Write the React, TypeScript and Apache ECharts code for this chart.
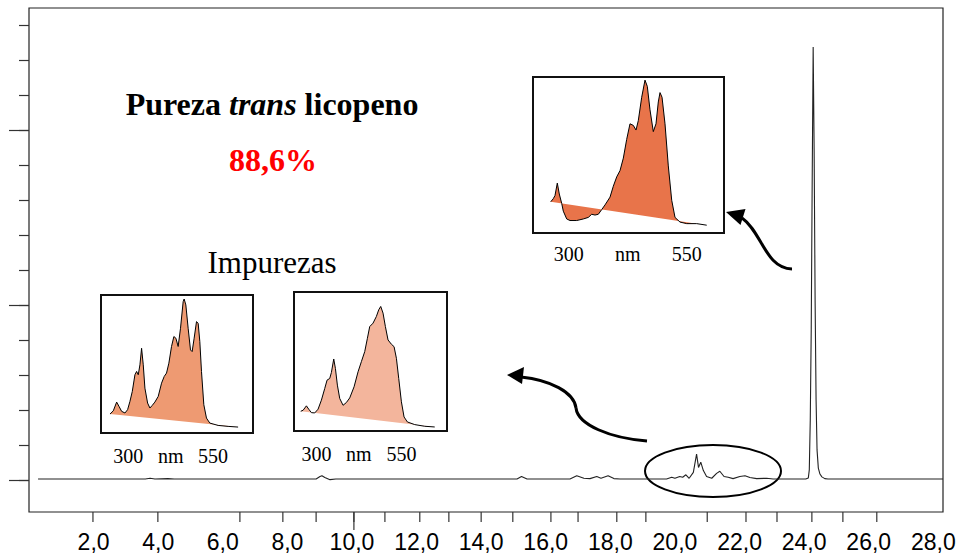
import React, { useEffect, useRef } from "react";
import * as echarts from "echarts";

// ---- Chromatogram (retention time, min ; signal, a.u.) ----
const retentionTime = [
  0.28, 2.0, 3.6, 3.75, 3.9, 4.3, 4.5, 8.89, 9.01, 9.07, 9.16, 9.32, 9.5,
  15.11, 15.25, 15.42, 16.75, 16.96, 17.18, 17.37, 17.58, 17.71, 17.93, 18.11, 18.3,
  19.74, 19.9, 20.0, 20.15, 20.24, 20.34, 20.44, 20.57, 20.67, 20.73, 20.8, 20.88, 20.98,
  21.14, 21.29, 21.39, 21.52, 21.65, 21.8, 22.01, 22.17, 22.32, 22.53, 22.84, 23.04,
  24.05, 24.13, 24.16, 24.19, 24.22, 24.25, 24.28, 24.31, 24.34, 24.37, 24.4, 24.44,
  24.49, 24.55, 24.64, 24.74, 28.3,
];
const signal = [
  0.03, 0.03, 0.03, 0.05, 0.03, 0.04, 0.03, 0.03, 0.1, 0.12, 0.07, 0.01, 0.03,
  0.03, 0.1, 0.03, 0.03, 0.12, 0.05, 0.04, 0.1, 0.05, 0.12, 0.04, 0.03,
  0.03, 0.08, 0.05, 0.1, 0.08, 0.15, 0.05, 0.22, 0.74, 0.36, 0.51, 0.27, 0.1,
  0.05, 0.19, 0.25, 0.1, 0.08, 0.04, 0.1, 0.12, 0.07, 0.04, 0.05, 0.03,
  0.03, 0.06, 0.29, 1.71, 4.29, 8.57, 12.37, 9.43, 5.14, 2.29, 0.86, 0.34,
  0.17, 0.09, 0.04, 0.03, 0.03,
];

// axis ticks / labels
const xTickValues = [1.98, 3.99, 6.53, 7.86, 8.89, 10.06, 11.02, 12.1, 13.0, 14.0, 14.98, 16.16, 17.0, 18.2, 19.1, 21.0, 22.2, 23.16, 24.24, 25.2, 26.25];
const xLongTickValues = [10.06];
const xLabelValues = [2, 4, 6, 8, 10, 12, 14, 16, 18, 20, 22, 24, 26, 28];
const yTickValues = [0, 1, 2, 3, 4, 5, 6, 7, 8, 9, 10, 11, 12, 13];
const yLongTickValues = [0, 5, 10];

// ---- UV-Vis spectra (nm ; absorbance, a.u.) ----
const transNm = [261.5, 267, 270.6, 275.5, 279.7, 284.8, 288.2, 295.4, 302.4, 316.6, 330.6, 341.2, 348.4, 355.4, 362.4, 369.6, 376.6, 387.2, 394.2, 401.4, 408.4, 415.4, 422.5, 429.5, 436.5, 442.3, 447.1, 454.3, 461.3, 466.2, 471.9, 478.9, 484.6, 489.5, 493.1, 497.4, 503.7, 510.7, 517.9, 524.9, 535.5, 549.7, 570.9, 592.1];
const transAbs = [0.2, 0.22, 0.24, 0.32, 0.25, 0.19, 0.14, 0.09, 0.08, 0.08, 0.09, 0.1, 0.12, 0.115, 0.12, 0.15, 0.18, 0.23, 0.3, 0.36, 0.4, 0.48, 0.6, 0.7, 0.69, 0.66, 0.72, 0.87, 0.98, 0.94, 0.79, 0.65, 0.7, 0.84, 0.9, 0.87, 0.7, 0.43, 0.21, 0.1, 0.07, 0.06, 0.06, 0.05];

const imp1Nm = [246.2, 256.0, 265.8, 272.7, 280.5, 290.3, 298.1, 305.0, 311.9, 319.7, 324.6, 329.5, 334.4, 339.3, 344.2, 349.1, 357.0, 363.8, 370.7, 378.5, 388.3, 398.1, 406.0, 412.8, 419.7, 427.5, 434.4, 440.3, 447.1, 454.0, 461.8, 464.7, 469.7, 476.5, 483.4, 488.3, 494.2, 501.1, 506.0, 510.9, 515.8, 522.7, 530.5, 540.3, 564.8, 594.3, 623.7];
const imp1Abs = [0.137, 0.161, 0.224, 0.193, 0.157, 0.145, 0.169, 0.229, 0.301, 0.422, 0.446, 0.422, 0.494, 0.614, 0.494, 0.325, 0.217, 0.181, 0.2, 0.224, 0.265, 0.361, 0.41, 0.434, 0.506, 0.627, 0.699, 0.687, 0.627, 0.759, 0.952, 0.971, 0.928, 0.759, 0.602, 0.59, 0.687, 0.807, 0.795, 0.663, 0.446, 0.205, 0.108, 0.072, 0.055, 0.048, 0.043];

const imp2Nm = [253.9, 260.8, 270.6, 277.4, 285.3, 295.1, 304.9, 314.7, 324.5, 331.3, 339.2, 344.1, 351.0, 355.9, 361.7, 368.6, 378.4, 388.2, 398.0, 410.8, 422.5, 432.3, 442.1, 450.0, 456.8, 466.6, 476.4, 483.3, 489.2, 496.0, 502.9, 510.7, 520.6, 528.4, 535.3, 542.1, 550.0, 557.8, 567.6, 589.2, 618.6, 648.0];
const imp2Abs = [0.142, 0.149, 0.181, 0.157, 0.132, 0.13, 0.157, 0.222, 0.306, 0.366, 0.378, 0.421, 0.518, 0.45, 0.33, 0.234, 0.185, 0.205, 0.238, 0.318, 0.426, 0.499, 0.571, 0.667, 0.751, 0.776, 0.824, 0.872, 0.896, 0.848, 0.751, 0.655, 0.624, 0.607, 0.523, 0.378, 0.21, 0.101, 0.065, 0.046, 0.034, 0.029];

const spectrumLabelValues = [300, 425, 550];

const SERIF = "'Liberation Serif', 'Times New Roman', serif";
const SANS = "'Liberation Sans', Arial, sans-serif";

const X_MIN = 0, X_MAX = 28.3, Y_MIN = -0.914, Y_MAX = 13.486;

function spectrumSeries(axisIndex: number, nm: number[], ab: number[], color: string) {
  return {
    type: "custom",
    xAxisIndex: axisIndex,
    yAxisIndex: axisIndex,
    data: nm.map((x, i) => [x, ab[i]]),
    renderItem: (params: any, api: any) => {
      if (params.dataIndex !== 0) return null;
      const pts = nm.map((x, i) => api.coord([x, ab[i]]));
      return {
        type: "group",
        children: [
          { type: "polygon", shape: { points: pts }, style: { fill: color, stroke: "none" } },
          { type: "polyline", shape: { points: pts }, style: { fill: "none", stroke: "#000", lineWidth: 1 } },
        ],
      };
    },
  };
}

// time-axis tick marks, placed through the x scale, hanging below the frame
function timeTickSeries(values: number[], len: number) {
  return {
    type: "custom",
    xAxisIndex: 0,
    yAxisIndex: 0,
    clip: false,
    silent: true,
    data: values.map((v) => [v, Y_MIN]),
    renderItem: (params: any, api: any) => {
      const p = api.coord([api.value(0), Y_MIN]);
      return {
        type: "line",
        shape: { x1: p[0], y1: p[1], x2: p[0], y2: p[1] + len },
        style: { stroke: "#333", lineWidth: 1.2 },
      };
    },
  };
}

function insetXAxis(gridIndex: number, min: number, max: number, margin: number) {
  return {
    type: "value",
    gridIndex,
    min,
    max,
    axisLine: { show: false, onZero: false },
    axisTick: { show: false },
    splitLine: { show: false },
    axisLabel: {
      customValues: spectrumLabelValues,
      formatter: (v: number) => (v === 425 ? "nm" : String(v)),
      fontFamily: SERIF,
      fontSize: 20,
      color: "#000",
      margin,
    },
  };
}

function insetYAxis(gridIndex: number) {
  return { type: "value", gridIndex, min: 0, max: 1, show: false, axisLine: { onZero: false } };
}

export default function App() {
  const ref = useRef<HTMLDivElement>(null);
  useEffect(() => {
    if (!ref.current) return;
    const chart = echarts.init(ref.current, undefined, { renderer: "svg" });
    chart.setOption({
      animation: false,
      backgroundColor: "#fff",
      grid: [
        { left: 29, top: 8, width: 914, height: 504, show: true, borderColor: "#222", borderWidth: 1.2, containLabel: false },
        { left: 533, top: 77, width: 191, height: 156, show: true, borderColor: "#111", borderWidth: 2 },
        { left: 101, top: 295, width: 152, height: 138, show: true, borderColor: "#111", borderWidth: 2 },
        { left: 294, top: 292, width: 153, height: 139, show: true, borderColor: "#111", borderWidth: 2 },
      ],
      xAxis: [
        {
          type: "value", gridIndex: 0, min: X_MIN, max: X_MAX, position: "bottom",
          axisLine: { show: false, onZero: false },
          splitLine: { show: false },
          axisTick: { show: false },
          axisLabel: {
            customValues: xLabelValues,
            formatter: (v: number) => v.toFixed(1).replace(".", ","),
            fontFamily: SANS, fontSize: 23, color: "#000", margin: 18,
          },
        },
        insetXAxis(1, 224, 628.7, 11),
        insetXAxis(2, 219.7, 667.6, 13),
        insetXAxis(3, 234.1, 684.1, 13),
      ],
      yAxis: [
        {
          type: "value", gridIndex: 0, min: Y_MIN, max: Y_MAX, position: "left",
          axisLine: { show: false, onZero: false }, splitLine: { show: false },
          axisTick: { show: true, customValues: yTickValues, length: 10, lineStyle: { color: "#333", width: 1.2 } },
          axisLabel: { show: false },
        },
        insetYAxis(1),
        insetYAxis(2),
        insetYAxis(3),
        {
          type: "value", gridIndex: 0, min: Y_MIN, max: Y_MAX, position: "left",
          axisLine: { show: false, onZero: false }, splitLine: { show: false },
          axisTick: { show: true, customValues: yLongTickValues, length: 20, lineStyle: { color: "#333", width: 1.2 } },
          axisLabel: { show: false },
        },
      ],
      series: [
        {
          type: "line",
          xAxisIndex: 0,
          yAxisIndex: 0,
          data: retentionTime.map((t, i) => [t, signal[i]]),
          showSymbol: false,
          smooth: false,
          lineStyle: { color: "#222", width: 1.1 },
        },
        timeTickSeries(xTickValues, 10),
        timeTickSeries(xLongTickValues, 18),
        spectrumSeries(1, transNm, transAbs, "#E8744A"),
        spectrumSeries(2, imp1Nm, imp1Abs, "#EE9A72"),
        spectrumSeries(3, imp2Nm, imp2Abs, "#F3B59C"),
      ],
      graphic: [
        {
          type: "text",
          x: 272, y: 104,
          style: {
            text: "{a|Pureza }{b|trans}{a| licopeno}",
            align: "center", verticalAlign: "middle",
            rich: {
              a: { fontFamily: SERIF, fontSize: 32, fontWeight: "bold", fill: "#000" },
              b: { fontFamily: SERIF, fontSize: 32, fontWeight: "bold", fontStyle: "italic", fill: "#000" },
            },
          },
        },
        {
          type: "text", x: 273, y: 160,
          style: { text: "88,6%", align: "center", verticalAlign: "middle", fontFamily: SERIF, fontSize: 32, fontWeight: "bold", fill: "#FF0000" },
        },
        {
          type: "text", x: 272, y: 262,
          style: { text: "Impurezas", align: "center", verticalAlign: "middle", fontFamily: SERIF, fontSize: 31, fill: "#000" },
        },
        {
          type: "ellipse",
          shape: { cx: 713, cy: 471, rx: 68, ry: 26 },
          style: { fill: "none", stroke: "#000", lineWidth: 2 },
        },
        {
          type: "bezierCurve",
          shape: { x1: 792, y1: 269, cpx1: 765, cpy1: 268, cpx2: 762, cpy2: 232, x2: 742, y2: 218 },
          style: { fill: "none", stroke: "#000", lineWidth: 3 },
        },
        {
          type: "polygon",
          shape: { points: [[726, 212], [745.5, 209], [740.5, 225]] },
          style: { fill: "#000" },
        },
        {
          type: "bezierCurve",
          shape: { x1: 647, y1: 441, cpx1: 610, cpy1: 438, cpx2: 578, cpy2: 425, x2: 576, y2: 408 },
          style: { fill: "none", stroke: "#000", lineWidth: 3 },
        },
        {
          type: "bezierCurve",
          shape: { x1: 576, y1: 408, cpx1: 574, cpy1: 392, cpx2: 550, cpy2: 380, x2: 521, y2: 377 },
          style: { fill: "none", stroke: "#000", lineWidth: 3 },
        },
        {
          type: "polygon",
          shape: { points: [[507, 375], [524, 367], [522, 384]] },
          style: { fill: "#000" },
        },
      ],
    });
    return () => chart.dispose();
  }, []);
  return <div ref={ref} style={{ position: "fixed", left: 0, top: 0, width: 963, height: 558 }} />;
}
